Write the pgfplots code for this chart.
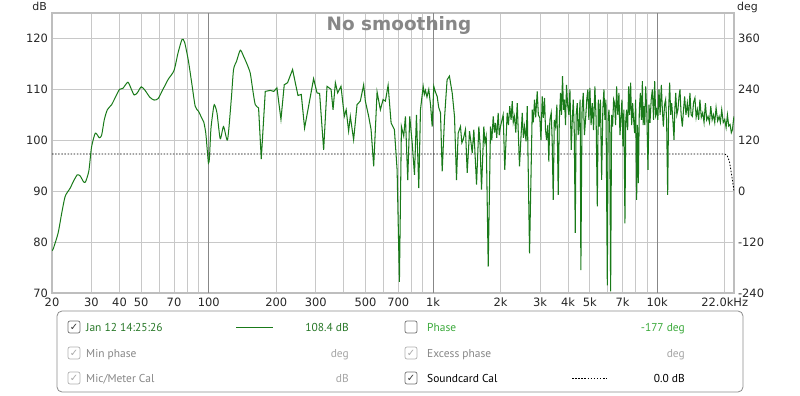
\documentclass[border=0pt]{standalone}
\usepackage{fontspec}
\setmainfont{DejaVu Sans}
\newfontfamily\legfont{PT Sans}
\usepackage{pgfplots}
\pgfplotsset{compat=1.18}
\definecolor{fr}{RGB}{25,122,25}
\definecolor{gridc}{RGB}{200,200,200}
\definecolor{decc}{RGB}{135,135,135}
\definecolor{framec}{RGB}{190,190,190}
\definecolor{lgreen}{RGB}{60,170,60}
\definecolor{dgreen}{RGB}{40,120,40}
\definecolor{dis}{RGB}{135,135,135}
\definecolor{dis2}{RGB}{165,165,165}
\begin{document}
\begin{tikzpicture}[x=1bp,y=1bp]
\useasboundingbox (0,0) rectangle (800,395);
\begin{axis}[
  at={(52bp,102bp)}, anchor=south west, scale only axis,
  width=682bp, height=280bp,
  xmode=log, xmin=20, xmax=22000, ymin=70, ymax=125,
  axis line style={draw=framec, line width=2.5bp},
  xtick={20,30,40,50,60,70,80,90,100,200,300,400,500,600,700,800,900,1000,2000,3000,4000,5000,6000,7000,8000,9000,10000,20000},
  xticklabels={20,30,40,50,,70,,,100,200,300,,500,,700,,,1k,2k,3k,4k,5k,,7k,,,10k,22.0kHz},
  minor xtick={},
  ytick={70,80,90,100,110,120}, yticklabels={70,80,90,100,110,120},
  xmajorgrids, ymajorgrids,
  major grid style={gridc, line width=0.8bp},
  major tick length=0pt,
  tick label style={font=\fontsize{11.5}{12}\selectfont, text=black!85},
  xticklabel style={yshift=-1.5bp},
  yticklabel style={xshift=-0.5bp},
  clip=true,
]
\pgfplotsinvokeforeach{100,1000,10000}{\draw[decc, line width=0.8bp] (axis cs:#1,70) -- (axis cs:#1,125);}
\addplot[black, line width=0.8bp, dash pattern=on 1.5bp off 1.6bp] coordinates {
(20,97.3) (20000,97.3) (20500,97.0) (21000,95.8) (21500,93.0) (22000,90.1)};
\addplot[fr, line width=1bp, smooth, tension=0.4] coordinates {
(20,78.3) (20.3,78.8) (21.3,81.8) (22.1,85.7) (22.9,89.0) (24.1,90.6) (24.9,91.9) (25.9,93.2) (26.7,93.0) (27.6,91.9) (28.2,91.8) (29.2,94.0) (30,98.6) (31.2,101.4) (32.5,100.5) (33.3,101.0) (34.2,104.0) (35.3,106.0) (36.9,107.0) (38.5,108.6) (40,110.0) (41.4,110.2) (43.6,111.4) (45.2,110.0) (46.5,108.9) (48,109.3) (50,110.5) (52,109.8) (54.5,108.5) (57,107.9) (59.5,108.2) (62.5,110.0) (66,112.0) (70,113.7) (73,117.2) (76,119.8) (78,119.3) (81,115.8) (84,111.2) (87,106.7) (90,105.7) (93,104.4) (95,103.6) (97,101.4) (98.5,98) (99.7,95.5) (100.7,96.5) (102.2,102.1) (104,105) (105.8,107.0) (108.8,105.4) (112.5,100.3) (116.4,102.7) (121.3,100.1) (126,108) (129,113.9) (133,115.5) (138.2,117.7) (143,116.5) (148,115.0) (153.1,113.2) (157,110) (161.2,107.0) (166.8,106.4)};
\addplot[fr, line width=1.05bp] coordinates {
(166.8,106.4) (171.5,96.3) (178.7,109.6) (188.1,109.8) (195,109.6) (201.4,110.3) (209.9,104.1) (217.1,110.9) (224.6,111.3) (236.5,113.9) (244,111) (250,108.8) (258.6,109.0) (267.5,102.4) (278.8,106.7) (293.5,112.1) (304,109.3) (312.2,109.2) (325.4,98.1) (336.9,110.6) (351.1,110.0) (358.4,106.0) (367,111.3) (375.8,109.3) (388.8,110.6) (402.3,104.7) (410,106) (420.5,101.8) (427.9,104.7) (442.6,100.1) (458.4,107.0) (474.2,107.7) (490.6,110.9) (499.3,107.7) (516.6,104.7) (529.5,102.1) (543.9,94.9) (563.2,109.5) (582.6,106.0) (599,108.0) (613.4,107.7) (630.7,110.8) (650.5,103.4) (672.9,102.1) (691.8,94.2) (708.4,72.2) (723.1,102.7) (740.4,100.8) (753.5,104.7) (771.6,92.2) (787.6,104.7) (807.5,99.5) (826.9,93.2) (843.9,105.0) (864.2,90.6) (879.4,106.0) (904.1,110.6) (915,109) (925.8,109.8) (940,108.5) (957.6,110.0) (975,107) (991.7,102.7) (1008,110.6) (1025,109.5) (1044,108.6) (1060,106.5) (1080,105.4) (1099,93.9) (1125,104.1) (1140,108) (1156,111.9) (1184,112.6) (1200,111) (1218,109.3) (1247,104.7) (1273,92.2) (1295,101.4) (1326,102.7) (1345,99.5) (1363,100.1) (1396,102.1) (1421,93.6) (1455,101.8) (1475,99.8) (1496,97.5) (1521,102.1) (1564,91.3) (1601,102.7) (1620,99.5) (1646,90.3) (1685,102.7) (1705,99.5) (1727,100.8) (1763,75.2) (1805,102.7) (1830,100) (1856,104.7) (1880,101.5) (1900,103.4) (1925,100.5) (1953,105.4) (1975,101) (2000,102.7) (2056,105.0) (2090,94.2) (2142,105.4) (2170,103) (2200,106.7) (2230,104) (2256,107.7) (2280,103.5) (2310,104.7) (2340,101.5) (2375,107.3) (2431,94.9) (2500,105.4) (2530,100.5) (2560,102.7) (2600,99.8) (2632,106.7) (2695,77.8) (2771,106.0) (2800,103.5) (2837,108.0) (2870,104.5) (2916,109.6) (2950,105) (2995,104.4) (3030,100) (3070,108.6) (3105,104.4) (3143,108.3) (3176,102) (3209,100.1) (3252,103) (3285,95.8) (3320,104) (3367,105.4) (3400,100) (3437,88.3) (3475,104) (3519,102.7) (3570,107) (3618,89.3) (3660,104) (3705,109.3) (3740,105) (3782,112.6) (3820,106) (3860,108.0) (3900,103) (3940,110.9) (3985,107) (4034,105.0) (4080,110) (4135,98.1) (4180,104) (4222,108.0) (4265,102) (4309,81.8) (4350,105) (4399,107.3) (4440,101) (4490,104.1) (4530,108) (4565,74.5) (4620,106) (4679,109.3) (4735,101) (4791,104.1) (4850,108) (4906,110.0) (4955,104) (5008,110.3) (5070,103) (5133,107.3) (5200,102) (5272,110.6) (5340,104) (5404,87.0) (5460,108) (5516,102.7) (5580,108) (5650,92.2) (5720,106) (5785,110.0) (5845,104) (5905,108.0) (5990,71.5) (6040,104) (6090,106.0) (6140,103) (6197,70.3) (6260,105) (6325,102.7) (6390,108) (6456,107.3) (6520,103) (6591,110.6) (6670,105) (6748,109.3) (6820,101) (6888,104.1) (6960,108) (7031,98.8) (7100,106) (7177,83.7) (7240,104) (7304,106.0) (7380,102) (7455,110.6) (7530,105) (7611,111.3) (7690,103) (7769,107.3) (7850,104) (7930,101.4) (8010,108) (8095,88.3) (8160,103) (8238,91.6) (8320,106) (8409,109.3) (8500,104) (8584,111.6) (8650,103) (8726,106.7) (8800,103) (8880,110.6) (8990,105) (9093,94.2) (9190,107) (9282,103.4) (9400,108) (9514,110.0) (9630,104) (9742,111.6) (9840,105) (9944,106.0) (10060,104) (10180,110.0) (10300,105) (10430,110.9) (10540,106) (10650,102.7) (10780,107) (10900,108.0) (11010,104) (11130,89.3) (11240,106) (11360,111.3) (11480,105) (11600,107.3) (11740,104) (11880,100.1) (11980,106) (12090,109.3) (12230,105) (12370,106.0) (12500,108.5) (12630,110.0) (12780,105) (12940,102.7) (13100,106) (13250,108.6) (13430,105) (13620,107.3) (13800,104.5) (13990,109.3) (14160,105) (14340,104.7) (14530,107.5) (14730,108.3) (14910,104.5) (15100,106.0) (15300,104) (15500,108.0) (15720,104.5) (15950,105.4) (16170,103.5) (16400,107.3) (16620,104) (16850,104.7) (17100,103.5) (17330,106.7) (17570,104) (17810,105.0) (18050,103.5) (18300,106.4) (18600,103.8) (18880,104.7) (19130,103.5) (19390,106.0) (19700,103.5) (20000,104.1) (20280,102.5) (20560,105.0) (20840,102.8) (21120,103.1) (21400,101.5) (21650,102.1) (21820,103.5) (22000,104.7)};
\end{axis}
\begin{axis}[
  at={(52bp,102bp)}, anchor=south west, scale only axis,
  width=682bp, height=280bp,
  xmode=log, xmin=20, xmax=22000, ymin=-240, ymax=420,
  axis y line*=right, axis x line=none,
  axis line style={draw=none},
  ytick={-240,-120,0,120,240,360}, yticklabels={-240,-120,0,120,240,360},
  major tick length=0pt,
  tick label style={font=\fontsize{11.5}{12}\selectfont, text=black!85},
  yticklabel style={xshift=0.5bp},
]
\end{axis}
% title and axis units
\node[font=\fontsize{18.5}{20}\selectfont\bfseries, text=black!47] at (399,370) {No smoothing};
\node[anchor=base east, inner sep=0pt, font=\fontsize{11}{12}\selectfont, text=black!85] at (47,384.5) {dB};
\node[anchor=base west, inner sep=0pt, font=\fontsize{11}{12}\selectfont, text=black!85] at (737,385) {deg};
% legend box
\draw[rounded corners=5bp, draw=black!45, line width=0.8bp, fill=white] (57,3) rectangle (743,84);
% row 1
\draw[rounded corners=2bp, draw=black!55, line width=0.7bp, fill=white] (68,62) rectangle (80,74);
\node[font=\fontsize{10}{10}\selectfont, text=black!80, inner sep=0pt] at (74,68) {✓};
\node[anchor=base west, inner sep=0pt, font=\legfont\fontsize{11.5}{12}\selectfont, text=dgreen] at (86,64) {Jan 12 14:25:26};
\draw[fr, line width=1bp] (236,68) -- (273,68);
\node[anchor=base east, inner sep=0pt, font=\legfont\fontsize{11.5}{12}\selectfont, text=dgreen] at (349,64) {108.4 dB};
\draw[rounded corners=2bp, draw=black!55, line width=0.7bp, fill=white] (405,62) rectangle (417,74);
\node[anchor=base west, inner sep=0pt, font=\legfont\fontsize{11.5}{12}\selectfont, text=lgreen] at (427,64) {Phase};
\node[anchor=base east, inner sep=0pt, font=\legfont\fontsize{11.5}{12}\selectfont, text=lgreen] at (685,64) {-177 deg};
% row 2
\draw[rounded corners=2bp, draw=black!30, line width=0.7bp, fill=white] (68,36) rectangle (80,48);
\node[font=\fontsize{10}{10}\selectfont, text=black!35, inner sep=0pt] at (74,42) {✓};
\node[anchor=base west, inner sep=0pt, font=\legfont\fontsize{11.5}{12}\selectfont, text=dis] at (86,38) {Min phase};
\node[anchor=base east, inner sep=0pt, font=\legfont\fontsize{11.5}{12}\selectfont, text=dis2] at (349,38) {deg};
\draw[rounded corners=2bp, draw=black!30, line width=0.7bp, fill=white] (405,36) rectangle (417,48);
\node[font=\fontsize{10}{10}\selectfont, text=black!35, inner sep=0pt] at (411,42) {✓};
\node[anchor=base west, inner sep=0pt, font=\legfont\fontsize{11.5}{12}\selectfont, text=dis] at (427,38) {Excess phase};
\node[anchor=base east, inner sep=0pt, font=\legfont\fontsize{11.5}{12}\selectfont, text=dis2] at (685,38) {deg};
% row 3
\draw[rounded corners=2bp, draw=black!30, line width=0.7bp, fill=white] (68,11) rectangle (80,23);
\node[font=\fontsize{10}{10}\selectfont, text=black!35, inner sep=0pt] at (74,17) {✓};
\node[anchor=base west, inner sep=0pt, font=\legfont\fontsize{11.5}{12}\selectfont, text=dis] at (86,13) {Mic/Meter Cal};
\node[anchor=base east, inner sep=0pt, font=\legfont\fontsize{11.5}{12}\selectfont, text=dis2] at (349,13) {dB};
\draw[rounded corners=2bp, draw=black!55, line width=0.7bp, fill=white] (405,11) rectangle (417,23);
\node[font=\fontsize{10}{10}\selectfont, text=black!80, inner sep=0pt] at (411,17) {✓};
\node[anchor=base west, inner sep=0pt, font=\legfont\fontsize{11.5}{12}\selectfont, text=black] at (427,13) {Soundcard Cal};
\draw[black, line width=0.8bp, dash pattern=on 1.5bp off 1.6bp] (572,17) -- (607,17);
\node[anchor=base east, inner sep=0pt, font=\legfont\fontsize{11.5}{12}\selectfont, text=black] at (685,13) {0.0 dB};
\end{tikzpicture}
\end{document}
